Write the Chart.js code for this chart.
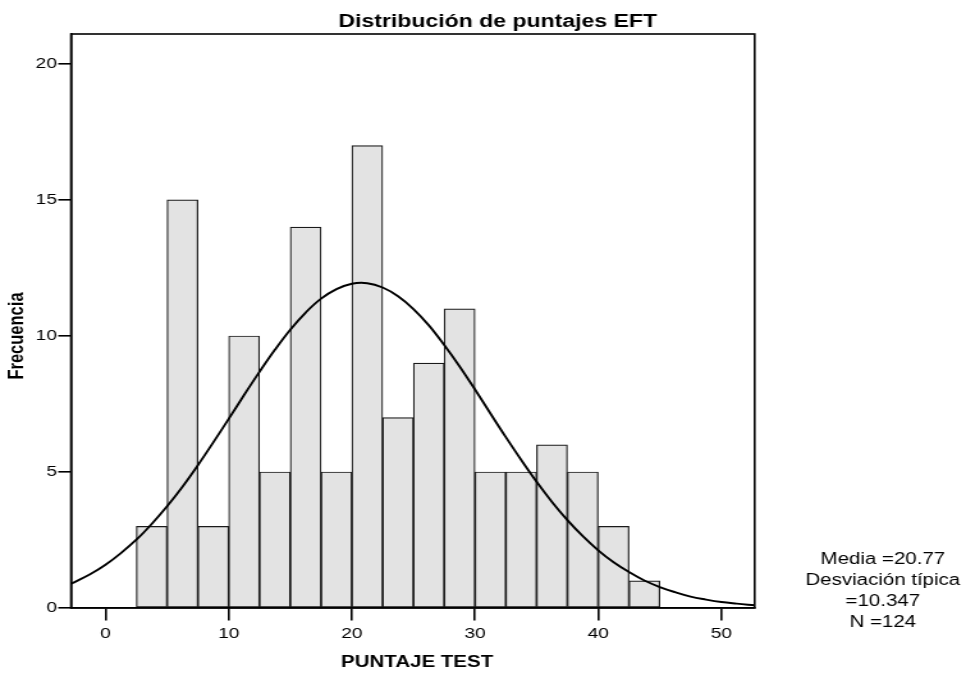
<!DOCTYPE html>
<html>
<head>
<meta charset="utf-8">
<script src="https://cdn.jsdelivr.net/npm/chart.js@4"></script>
<style>
body { margin: 0; background: #fff; }
canvas { display: block; }
</style>
</head>
<body>
<!-- drawn narrow, then stretched sideways like the exported SPSS graphic -->
<canvas id="myChart" width="755" height="673" style="width:966px;height:673px"></canvas>
<script>
// Histogram bins (width 2.5) and their counts
const binMids = [3.75, 6.25, 8.75, 11.25, 13.75, 16.25, 18.75, 21.25, 23.75, 26.25, 28.75, 31.25, 33.75, 36.25, 38.75, 41.25, 43.75];
const counts = [3, 15, 3, 10, 5, 14, 5, 17, 7, 9, 11, 5, 5, 6, 5, 3, 1];

// Normal curve, read point by point
const curveX = [-2.8, -1.25, 0, 1.25, 2.5, 3.75, 5, 6.25, 7.5, 8.75, 10, 11.25, 12.5, 13.75, 15, 16.25, 17.5, 18.75,
    20, 21.25, 22.5, 23.75, 25, 26.25, 27.5, 28.75, 30, 31.25, 32.5, 33.75, 35, 36.25, 37.5, 38.75,
    40, 41.25, 42.5, 43.75, 45, 46.25, 47.5, 48.75, 50, 51.25, 52.7];
const curveY = [0.89, 1.24, 1.59, 2.02, 2.51, 3.09, 3.74, 4.46, 5.25, 6.09, 6.95, 7.83, 8.68, 9.49, 10.23, 10.86, 11.37, 11.72,
    11.92, 11.94, 11.78, 11.46, 10.99, 10.39, 9.67, 8.88, 8.03, 7.15, 6.28, 5.44, 4.64, 3.90, 3.23, 2.64,
    2.12, 1.68, 1.32, 1.01, 0.77, 0.58, 0.42, 0.31, 0.22, 0.16, 0.10];

// Axis ranges and ticks
const xMin = -2.8, xMax = 52.7, xStep = 10;
const yMin = 0, yMax = 21.1, yStep = 5;

const chartTitle = 'Distribución de puntajes EFT';
const xTitle = 'PUNTAJE TEST';
const yTitle = 'Frecuencia';
const statLines = ['Media =20.77', 'Desviación típica', '=10.347', 'N =124'];

const FONT = '"Liberation Sans", Arial, Helvetica, sans-serif';

// Frame round the plot plus the titles and the stats box
const frameAndText = {
    id: 'frameAndText',
    afterDraw(chart) {
        const ctx = chart.ctx;
        const a = chart.chartArea;
        ctx.save();
        ctx.strokeStyle = '#000';
        ctx.lineWidth = 1.6;
        ctx.strokeRect(a.left, a.top, a.right - a.left, a.bottom - a.top);

        ctx.fillStyle = '#000';
        ctx.textAlign = 'center';
        ctx.textBaseline = 'middle';

        ctx.font = 'bold 18px ' + FONT;
        ctx.fillText(chartTitle, 389, 22);

        ctx.font = 'bold 16px ' + FONT;
        ctx.fillText(xTitle, 326, 663);

        ctx.save();
        ctx.translate(13.5, 336);
        ctx.rotate(-Math.PI / 2);
        ctx.font = 'bold 16.5px ' + FONT;
        ctx.fillText(yTitle, 0, 0);
        ctx.restore();

        ctx.font = '16px ' + FONT;
        statLines.forEach((line, i) => {
            ctx.fillText(line, 690, 560 + i * 21);
        });
        ctx.restore();
    }
};

let ctx = document.getElementById('myChart').getContext('2d');
let myChart = new Chart(ctx, {
    type: 'bar',
    data: {
        datasets: [
            {
                type: 'line',
                data: curveX.map((x, i) => ({ x: x, y: curveY[i] })),
                borderColor: '#000',
                borderWidth: 1.9,
                pointRadius: 0,
                fill: false,
                tension: 0.4,
                order: 0
            },
            {
                type: 'bar',
                data: binMids.map((x, i) => ({ x: x, y: counts[i] })),
                backgroundColor: '#e3e3e3',
                borderColor: '#1a1a1a',
                borderWidth: 1.2,
                borderSkipped: false,
                barPercentage: 1,
                categoryPercentage: 1,
                order: 1
            }
        ]
    },
    options: {
        responsive: false,
        animation: false,
        events: [],
        layout: {
            padding: { left: 0, top: 34, right: 165.2, bottom: 25 }
        },
        plugins: {
            legend: { display: false },
            tooltip: { enabled: false },
            title: { display: false }
        },
        scales: {
            x: {
                type: 'linear',
                min: xMin,
                max: xMax,
                offset: false,
                ticks: {
                    stepSize: xStep,
                    includeBounds: false,
                    color: '#000',
                    padding: 4,
                    maxRotation: 0,
                    font: { family: FONT, size: 15 }
                },
                grid: {
                    offset: false,
                    drawOnChartArea: false,
                    drawTicks: true,
                    tickLength: 12.5,
                    color: '#000',
                    lineWidth: 1.6
                },
                border: { display: true, color: '#000', width: 1.6 },
                afterFit: function(scale) { scale.height = 40; }
            },
            y: {
                min: yMin,
                max: yMax,
                ticks: {
                    stepSize: yStep,
                    includeBounds: false,
                    color: '#000',
                    padding: 1,
                    font: { family: FONT, size: 15 }
                },
                grid: {
                    drawOnChartArea: false,
                    drawTicks: true,
                    tickLength: 10,
                    color: '#000',
                    lineWidth: 1.6
                },
                border: { display: true, color: '#000', width: 1.6 },
                afterFit: function(scale) { scale.width = 55.5; }
            }
        }
    },
    plugins: [frameAndText]
});
</script>
</body>
</html>
